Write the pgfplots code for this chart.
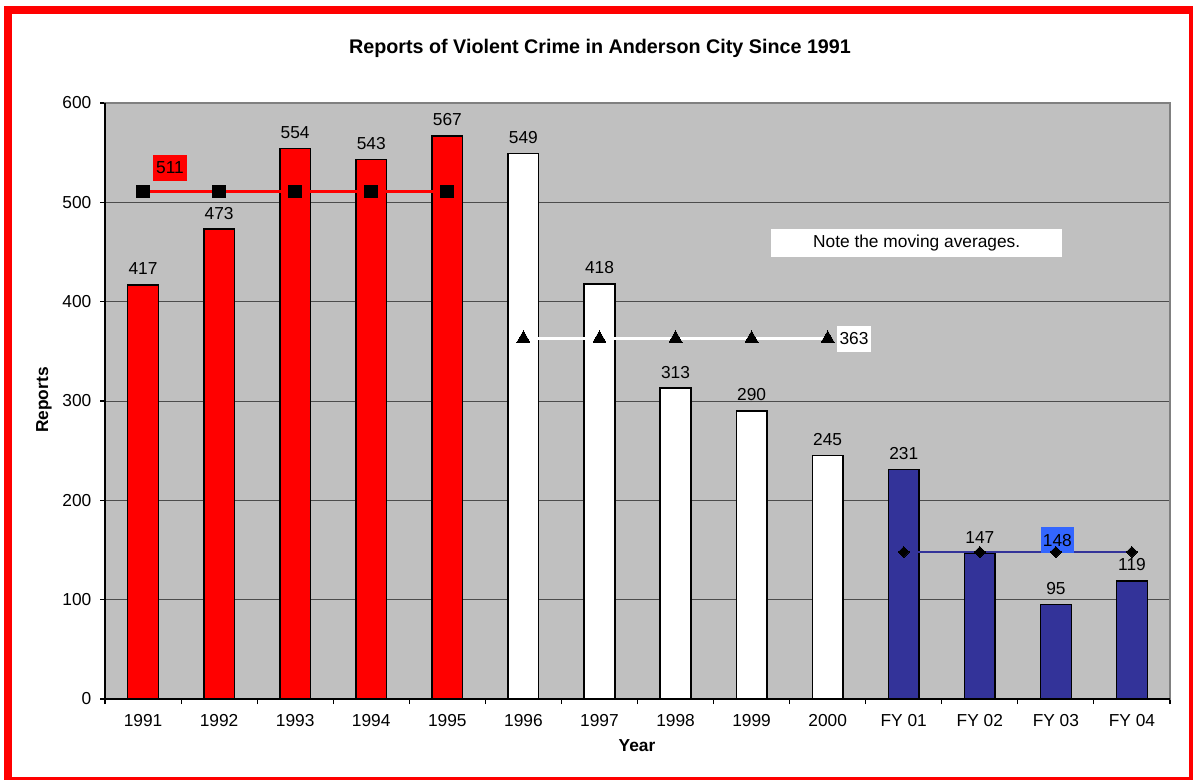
\documentclass[border=0pt]{standalone}
\usepackage{fontspec}
\setmainfont{Liberation Sans}
\usepackage{pgfplots}
\pgfplotsset{compat=1.18}
\definecolor{bgrey}{HTML}{C0C0C0}
\definecolor{navy}{HTML}{333399}
\definecolor{lblue}{HTML}{3366FF}
\newcommand{\lf}{\fontsize{13}{15}\selectfont}
\begin{document}
\begin{tikzpicture}[x=0.75pt,y=0.75pt]
\useasboundingbox (0,0) rectangle (1193,779);
\fill[white] (0,0) rectangle (1193,779);
\begin{scope}
\clip (0,0) rectangle (1193,779);
\draw[red, line width=6pt] (8,-2) rectangle (1193,769);
\end{scope}
\node[font=\bfseries\fontsize{14.8}{17}\selectfont] at (600,731) {Reports of Violent Crime in Anderson City Since 1991};
\node[font=\bfseries\lf, rotate=90] at (44,379) {Reports};
\node[font=\bfseries\lf] at (637,33) {Year};
\begin{axis}[
  at={(78.75pt,60pt)}, anchor=south west,
  scale only axis, width=798.75pt, height=447pt,
  xmin=-0.5, xmax=13.5, ymin=0, ymax=600,
  axis background/.style={fill=bgrey},
  axis line style={draw=black!50, line width=0.8pt},
  tick pos=left, tick align=outside,
  major tick length=3.75pt,
  tick style={black, line width=0.8pt},
  ytick={0,100,...,600},
  ymajorgrids, grid style={black!70, line width=0.6pt},
  xtick={-0.5,0.5,...,13.5}, xticklabels={},
  extra x ticks={0,1,...,13},
  extra x tick labels={1991,1992,1993,1994,1995,1996,1997,1998,1999,2000,FY 01,FY 02,FY 03,FY 04},
  extra x tick style={major tick length=0pt, xticklabel style={yshift=-8pt}},
  yticklabel style={xshift=-3pt},
  /pgf/number format/assume math mode=true,
  ticklabel style={font=\lf},
  clip=false,
  nodes near coords style={font=\lf, text=black, yshift=3.5pt},
]
\addplot[ybar, bar shift=0pt, bar width=23pt, fill=red, draw=black, line width=1.1pt, nodes near coords]
  coordinates {(0,417)(1,473)(2,554)(3,543)(4,567)};
\addplot[ybar, bar shift=0pt, bar width=23pt, fill=white, draw=black, line width=1.1pt, nodes near coords]
  coordinates {(5,549)(6,418)(7,313)(8,290)(9,245)};
\addplot[ybar, bar shift=0pt, bar width=23pt, fill=navy, draw=black, line width=1.1pt, nodes near coords]
  coordinates {(10,231)(11,147)(12,95)(13,119)};
% moving averages
\addplot[red, line width=2.2pt, mark=square*, mark size=4.8pt, mark options={black, fill=black, line width=0pt}]
  coordinates {(0,511)(1,511)(2,511)(3,511)(4,511)};
\addplot[white, line width=2.2pt, mark=triangle*, mark size=5.6pt, mark options={black, fill=black, line width=0pt}]
  coordinates {(5,363)(6,363)(7,363)(8,363)(9,363)};
\addplot[navy, line width=2.2pt, mark=square*, mark size=2.9pt, mark options={black, fill=black, rotate=45, line width=0pt}]
  coordinates {(10,148)(11,148)(12,148)(13,148)};
\draw[black, line width=1pt] (rel axis cs:0,1) -- (rel axis cs:0,0) -- (rel axis cs:1,0);
\node[fill=red, inner sep=0pt, minimum width=25.5pt, minimum height=19.5pt, font=\lf] at (axis cs:0.354,534.6) {511};
\node[fill=white, inner sep=0pt, minimum width=25.5pt, minimum height=19.5pt, font=\lf] at (axis cs:9.346,362.4) {363};
\node[fill=lblue, inner sep=0pt, minimum width=25pt, minimum height=19.5pt, font=\lf] at (axis cs:12.02,160) {148};
\node[fill=white, inner sep=0pt, minimum width=218.25pt, minimum height=21pt, font=\lf] at (axis cs:10.17,459.1) {Note the moving averages.};
\end{axis}
\end{tikzpicture}
\end{document}
